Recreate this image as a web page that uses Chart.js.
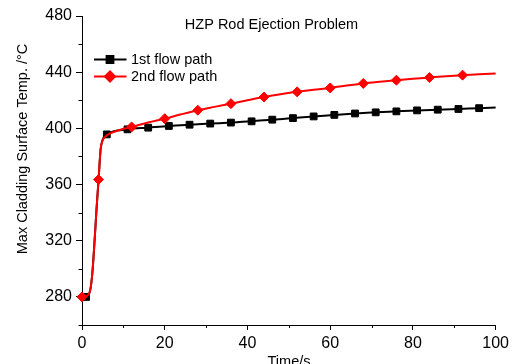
<!DOCTYPE html>
<html>
<head>
<meta charset="utf-8">
<title>HZP Rod Ejection Problem</title>
<script src="https://cdn.jsdelivr.net/npm/chart.js@4.4.1/dist/chart.umd.min.js"></script>
<style>
  html, body { margin: 0; padding: 0; background: #fff; }
</style>
</head>
<body>
<canvas id="myChart" width="513" height="364"></canvas>
<script>
// 1st flow path (black squares)
const path1Time = [0, 1, 2, 2.5, 3, 3.5, 4, 4.5, 5, 6, 11, 16, 21, 26, 31, 36, 41, 46, 51, 56, 61, 66, 71, 76, 81, 86, 91, 96, 100];
const path1Temp = [280, 280, 285, 297, 318, 342, 363, 385, 392, 395.7, 399.3, 400.5, 401.7, 402.6, 403.4, 404.1, 405, 406.2, 407.3, 408.5, 409.6, 410.6, 411.4, 412.1, 412.8, 413.3, 413.8, 414.4, 414.8];
const path1Marks = [1, 6, 11, 16, 21, 26, 31, 36, 41, 46, 51, 56, 61, 66, 71, 76, 81, 86, 91, 96];

// 2nd flow path (red diamonds)
const path2Time = [0, 1, 2, 2.5, 3, 3.5, 4, 4.5, 5, 6, 8, 12, 16, 20, 24, 28, 32, 36, 40, 44, 48, 52, 56, 60, 64, 68, 72, 76, 80, 84, 88, 92, 96, 100];
const path2Temp = [280, 280.5, 285, 297, 318, 342, 363.6, 385, 391.5, 395, 397.8, 401, 404.2, 406.9, 410, 412.9, 415.3, 417.6, 420, 422.3, 424.3, 426, 427.5, 428.8, 430.5, 432, 433.2, 434.3, 435.3, 436.2, 437.1, 437.9, 438.5, 439];
const path2Marks = [0, 4, 12, 20, 28, 36, 44, 52, 60, 68, 76, 84, 92];

const xTickValues = [0, 20, 40, 60, 80, 100];
const xMinorValues = [10, 30, 50, 70, 90];
const yTickValues = [280, 320, 360, 400, 440, 480];
const yMinorValues = [260, 300, 340, 380, 420, 460];

const FONT = '"Liberation Sans", Arial, sans-serif';

function toPoints(times, temps) {
  return times.map((t, i) => ({ x: t, y: temps[i] }));
}

// titoli, legenda e tacche minori disegnati a mano
const decorPlugin = {
  id: 'decor',
  afterDraw(chart) {
    const ctx = chart.ctx;
    const xs = chart.scales.x;
    const ys = chart.scales.y;
    const area = chart.chartArea;

    ctx.save();
    ctx.strokeStyle = '#000';
    ctx.lineWidth = 1;
    ctx.beginPath();
    xMinorValues.forEach(v => {
      const px = Math.round(xs.getPixelForValue(v)) + 0.5;
      ctx.moveTo(px, area.bottom);
      ctx.lineTo(px, area.bottom + 3);
    });
    yMinorValues.forEach(v => {
      const py = Math.round(ys.getPixelForValue(v)) + 0.5;
      ctx.moveTo(area.left, py);
      ctx.lineTo(area.left - 3.5, py);
    });
    ctx.stroke();

    ctx.fillStyle = '#000';
    ctx.font = '14.5px ' + FONT;
    ctx.textAlign = 'center';
    ctx.textBaseline = 'alphabetic';
    ctx.fillText('HZP Rod Ejection Problem', 271.5, 28.5);
    ctx.fillText('Time/s', 289, 366);

    ctx.save();
    ctx.translate(27, 149);
    ctx.rotate(-Math.PI / 2);
    ctx.fillText('Max Cladding Surface Temp. /\u00B0C', 0, 0);
    ctx.restore();

    // legenda
    const items = [
      { label: '1st flow path', color: '#000000', style: 'rect', radius: 4.8, y: 59.5 },
      { label: '2nd flow path', color: '#ff0000', style: 'rectRot', radius: 5, y: 76.5 }
    ];
    items.forEach(it => {
      ctx.strokeStyle = it.color;
      ctx.lineWidth = 2;
      ctx.beginPath();
      ctx.moveTo(94, it.y);
      ctx.lineTo(126.5, it.y);
      ctx.stroke();
      ctx.fillStyle = it.color;
      Chart.helpers.drawPoint(ctx, { pointStyle: it.style, radius: it.radius, borderWidth: 1, rotation: 0 }, 110, it.y);
      ctx.fillStyle = '#000';
      ctx.textAlign = 'left';
      ctx.textBaseline = 'middle';
      ctx.font = '14.5px ' + FONT;
      ctx.fillText(it.label, 131, it.y + 0.5);
    });
    ctx.restore();
  }
};

const ctx = document.getElementById('myChart').getContext('2d');
const myChart = new Chart(ctx, {
  type: 'line',
  data: {
    datasets: [
      {
        label: '2nd flow path',
        data: toPoints(path2Time, path2Temp),
        borderColor: '#ff0000',
        backgroundColor: '#ff0000',
        borderWidth: 2,
        cubicInterpolationMode: 'monotone',
        pointStyle: 'rectRot',
        pointRadius: c => path2Marks.includes(c.raw.x) ? 5 : 0,
        pointBorderWidth: 1,
        clip: false,
        order: 0
      },
      {
        label: '1st flow path',
        data: toPoints(path1Time, path1Temp),
        borderColor: '#000000',
        backgroundColor: '#000000',
        borderWidth: 2,
        cubicInterpolationMode: 'monotone',
        pointStyle: 'rect',
        pointRadius: c => path1Marks.includes(c.raw.x) ? 4.8 : 0,
        pointBorderWidth: 1,
        clip: false,
        order: 1
      }
    ]
  },
  options: {
    responsive: false,
    animation: false,
    events: [],
    layout: { padding: { left: 0, right: 16.5, top: 16, bottom: 0 } },
    plugins: {
      legend: { display: false },
      title: { display: false },
      tooltip: { enabled: false }
    },
    scales: {
      x: {
        type: 'linear',
        min: 0,
        max: 100,
        afterBuildTicks: s => { s.ticks = xTickValues.map(v => ({ value: v })); },
        afterFit: s => { s.height = 39; },
        grid: { drawOnChartArea: false, drawTicks: true, tickLength: 5, color: '#000', lineWidth: 1 },
        border: { display: true, color: '#000', width: 1 },
        ticks: { color: '#000', padding: 4, maxRotation: 0, font: { family: FONT, size: 16 } }
      },
      y: {
        type: 'linear',
        min: 260,
        max: 480,
        afterBuildTicks: s => { s.ticks = yTickValues.map(v => ({ value: v })); },
        afterFit: s => { s.width = 82; },
        grid: { drawOnChartArea: false, drawTicks: true, tickLength: 6, color: '#000', lineWidth: 1 },
        border: { display: true, color: '#000', width: 1 },
        ticks: { color: '#000', padding: 4, font: { family: FONT, size: 16 } }
      }
    }
  },
  plugins: [decorPlugin]
});
</script>
</body>
</html>
